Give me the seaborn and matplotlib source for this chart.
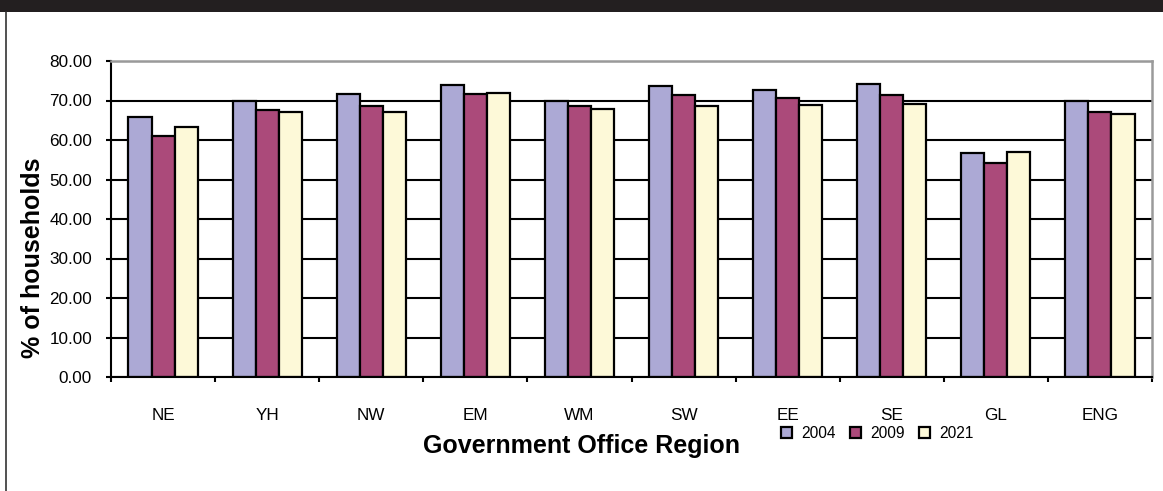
import matplotlib
matplotlib.use("Agg")
import matplotlib.pyplot as plt
from matplotlib.patches import Rectangle, Patch
from matplotlib.lines import Line2D
from matplotlib.ticker import FixedLocator, FormatStrFormatter
import pandas as pd
import seaborn as sns

# Share of households by Government Office Region
regions = ["NE", "YH", "NW", "EM", "WM", "SW", "EE", "SE", "GL", "ENG"]
years = ["2004", "2009", "2021"]
values_2004 = [65.8, 69.8, 71.6, 73.8, 70.0, 73.6, 72.7, 74.1, 56.8, 69.8]
values_2009 = [60.9, 67.7, 68.7, 71.7, 68.6, 71.3, 70.6, 71.3, 54.1, 67.0]
values_2021 = [63.3, 67.2, 67.0, 71.9, 67.8, 68.6, 68.9, 69.1, 56.9, 66.5]
y_ticks = [0, 10, 20, 30, 40, 50, 60, 70, 80]

colors = ["#ACA9D5", "#AB4A7A", "#FDF9D8"]

df = pd.DataFrame({
    "region": regions * 3,
    "year": [years[0]] * 10 + [years[1]] * 10 + [years[2]] * 10,
    "value": values_2004 + values_2009 + values_2021,
})

sns.set_style("white")
plt.rcParams["font.family"] = ["Liberation Sans", "DejaVu Sans"]
plt.rcParams["text.color"] = "black"
plt.rcParams["axes.labelcolor"] = "black"
plt.rcParams["xtick.color"] = "black"
plt.rcParams["ytick.color"] = "black"

W, H = 1163, 491
fig = plt.figure(figsize=(W / 100, H / 100), dpi=100)
fig.patch.set_facecolor("white")
ax = fig.add_axes([111 / W, 1 - 377 / H, (1152 - 111) / W, (377 - 61) / H])

sns.barplot(
    data=df, x="region", y="value", hue="year", order=regions,
    hue_order=years, palette=colors, saturation=1, width=0.665,
    edgecolor="black", linewidth=1.6, legend=False, ax=ax, zorder=3,
)

ax.set_ylim(0, 80)
ax.set_xlim(-0.5, len(regions) - 0.5)
ax.yaxis.set_major_locator(FixedLocator(y_ticks))
ax.yaxis.set_major_formatter(FormatStrFormatter("%.2f"))
ax.yaxis.grid(True, color="black", linewidth=1.5)
ax.set_axisbelow(True)

# category labels centred, tick marks at category boundaries
ax.set_xticks(range(len(regions)))
ax.set_xticklabels(regions)
ax.set_xticks([i - 0.5 for i in range(len(regions) + 1)], minor=True)
ax.tick_params(axis="x", which="major", length=0, pad=22, labelsize=12.3,
               colors="black")
ax.tick_params(axis="x", which="minor", length=3.6, width=1.5,
               direction="out", color="black", bottom=True)
ax.tick_params(axis="y", which="major", length=3.6, width=1.5,
               direction="out", pad=10, labelsize=12.3, colors="black",
               left=True)

for side in ("left", "bottom"):
    ax.spines[side].set_color("black")
    ax.spines[side].set_linewidth(1.5)
for side in ("top", "right"):
    ax.spines[side].set_color("#9a9a9a")
    ax.spines[side].set_linewidth(1.8)
for sp in ax.spines.values():
    sp.set_zorder(4)

ax.set_xlabel("Government Office Region", fontsize=18, fontweight="bold")
ax.xaxis.set_label_coords(581.5 / W, 1 - 453 / H, transform=fig.transFigure)
ax.xaxis.label.set_va("baseline")
ax.set_ylabel("% of households", fontsize=18, fontweight="bold")
ax.yaxis.set_label_coords(33 / W, 1 - 258 / H, transform=fig.transFigure)
ax.yaxis.label.set_va("center")

handles = [Patch(facecolor=c, edgecolor="black", linewidth=1.6) for c in colors]
fig.legend(
    handles, years, loc="center left",
    bbox_to_anchor=(781 / W, 1 - 433.5 / H), ncol=3, frameon=False,
    fontsize=11.2, handlelength=0.72, handleheight=0.72, handletextpad=0.6,
    columnspacing=0.9, borderpad=0, borderaxespad=0,
)

# dark header band and left border of the panel
fig.patches.append(Rectangle((0, 1 - 12 / H), 1, 12 / H, transform=fig.transFigure,
                             facecolor="#231F20", edgecolor="none", zorder=0))
fig.lines.append(Line2D([5.5 / W, 5.5 / W], [0, 1 - 12 / H], transform=fig.transFigure,
                        color="#333333", linewidth=1.2))

fig.savefig("out.png", dpi=100)
